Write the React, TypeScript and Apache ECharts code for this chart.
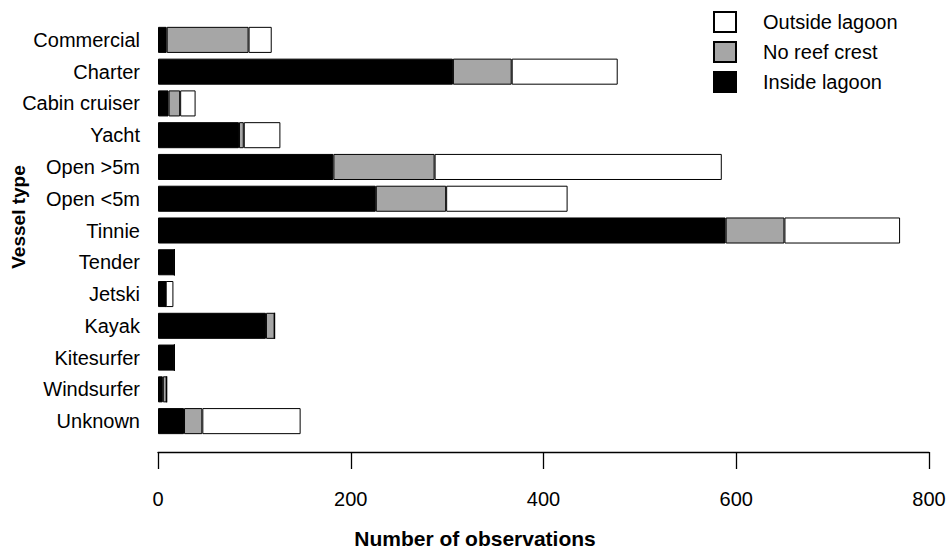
import React, { useEffect, useRef } from "react";
import * as echarts from "echarts";

const categories = [
  "Commercial",
  "Charter",
  "Cabin cruiser",
  "Yacht",
  "Open >5m",
  "Open <5m",
  "Tinnie",
  "Tender",
  "Jetski",
  "Kayak",
  "Kitesurfer",
  "Windsurfer",
  "Unknown",
];

const insideLagoon = [9, 306, 11, 84, 182, 226, 589, 17, 8, 112, 17, 5, 27];
const noReefCrest = [85, 61, 12, 5, 105, 73, 61, 0, 0, 9, 0, 4, 19];
const outsideLagoon = [24, 110, 16, 38, 298, 126, 120, 0, 8, 0, 0, 0, 102];

const xTicks = [0, 200, 400, 600, 800];

const xTitle = "Number of observations";
const yTitle = "Vessel type";

const FONT = "'Liberation Sans', Arial, sans-serif";

export default function App() {
  const ref = useRef<HTMLDivElement>(null);

  useEffect(() => {
    if (!ref.current) return;
    const chart = echarts.init(ref.current, undefined, { renderer: "svg" });
    const barStyle = (color: string) => ({
      color,
      borderColor: "#000",
      borderWidth: 1,
    });
    const option = {
      animation: false,
      backgroundColor: "#fff",
      textStyle: { fontFamily: FONT, color: "#000" },
      grid: {
        left: 158,
        right: 20,
        top: 24,
        height: 413,
        containLabel: false,
        outerBoundsMode: "none",
      },
      legend: {
        orient: "vertical",
        left: 708,
        top: 6,
        icon: "rect",
        itemWidth: 22,
        itemHeight: 20,
        itemGap: 8,
        data: ["Outside lagoon", "No reef crest", "Inside lagoon"],
        textStyle: { fontSize: 20, color: "#000", fontFamily: FONT, padding: [0, 0, 0, 22] },
      },
      graphic: [
        {
          type: "text",
          x: 475,
          y: 538,
          style: {
            text: xTitle,
            fontSize: 21,
            fontWeight: "bold",
            fontFamily: FONT,
            fill: "#000",
            align: "center",
            verticalAlign: "middle",
          },
        },
        {
          type: "text",
          x: 18,
          y: 217,
          rotation: Math.PI / 2,
          style: {
            text: yTitle,
            fontSize: 19,
            fontWeight: "bold",
            fontFamily: FONT,
            fill: "#000",
            align: "center",
            verticalAlign: "middle",
          },
        },
      ],
      xAxis: {
        type: "value",
        min: xTicks[0],
        max: xTicks[xTicks.length - 1],
        interval: 200,
        offset: 15,
        splitLine: { show: false },
        axisLine: { show: true, lineStyle: { color: "#000", width: 1.3 } },
        axisTick: { show: true, length: 17, lineStyle: { color: "#000", width: 1.3 } },
        axisLabel: { fontSize: 20, color: "#000", margin: 37, fontFamily: FONT },
      },
      yAxis: {
        type: "category",
        data: categories,
        inverse: true,
        axisLine: { show: false },
        axisTick: { show: false },
        axisLabel: { fontSize: 20, color: "#000", margin: 18, fontFamily: FONT },
      },
      series: [
        {
          name: "Inside lagoon",
          type: "bar",
          stack: "total",
          barCategoryGap: "18%",
          itemStyle: barStyle("#000000"),
          data: insideLagoon,
        },
        {
          name: "No reef crest",
          type: "bar",
          stack: "total",
          barCategoryGap: "18%",
          itemStyle: barStyle("#a6a6a6"),
          data: noReefCrest,
        },
        {
          name: "Outside lagoon",
          type: "bar",
          stack: "total",
          barCategoryGap: "18%",
          itemStyle: barStyle("#ffffff"),
          data: outsideLagoon,
        },
      ],
    };
    chart.setOption(option as any);
    return () => chart.dispose();
  }, []);

  return (
    <div
      ref={ref}
      style={{ position: "absolute", left: 0, top: 0, width: 949, height: 550 }}
    />
  );
}
